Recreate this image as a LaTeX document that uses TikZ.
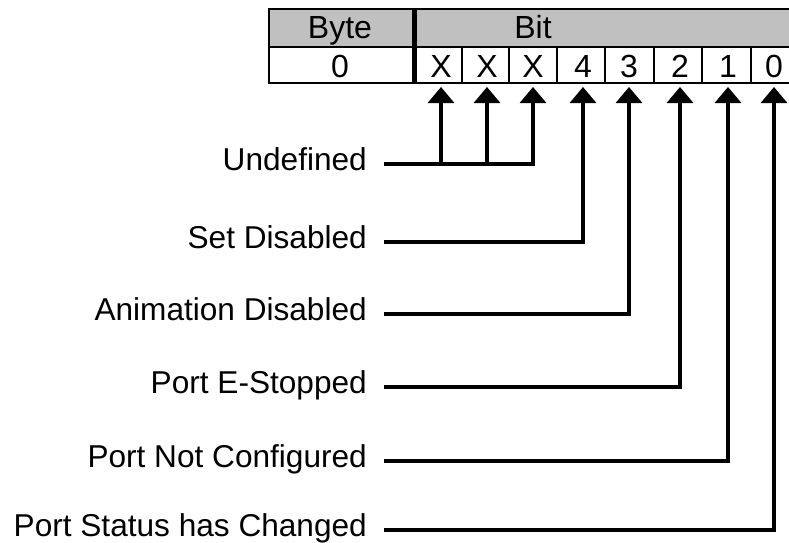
\documentclass[tikz,border=0pt]{standalone}
\usepackage{fontspec}
\setmainfont{Liberation Sans}
\newfontfamily\diagfont{Liberation Sans}
\usetikzlibrary{arrows.meta}
\definecolor{hdrgray}{RGB}{192,192,192}
\tikzset{
  lab/.style={anchor=base east, inner sep=0pt, font=\diagfont\fontsize{31.6}{33}\selectfont},
  celltext/.style={anchor=base, inner sep=0pt, font=\diagfont\fontsize{32}{34}\selectfont},
  conn/.style={line width=3.2pt, line join=miter},
  arrowconn/.style={conn, -{Triangle[width=26pt,length=16pt]}}
}
\begin{document}
\begin{tikzpicture}[x=1pt,y=-1pt]
\useasboundingbox (0,0) rectangle (789,542);
\clip (0,0) rectangle (789,542);
% table
\fill[hdrgray] (269,9) rectangle (800,47);
\fill[white] (269,47) rectangle (800,83);
\draw[line width=2.5pt] (269,9) rectangle (800,83);
\draw[line width=2pt] (269,47) -- (800,47);
\draw[line width=5pt] (414.5,9) -- (414.5,83);
\foreach \x in {462,509,557,605,654,702,751} \draw[line width=1.8pt] (\x,47) -- (\x,83);
% table text
\node[celltext] (byte) at (340,38) {Byte};
\node[celltext] (bit) at (533,38) {Bit};
\node[celltext] (byteval) at (340,77) {0};
\node[celltext] (c7) at (441,77) {X};
\node[celltext] (c6) at (487,77) {X};
\node[celltext] (c5) at (533,77) {X};
\node[celltext] (c4) at (583,77) {4};
\node[celltext] (c3) at (629,77) {3};
\node[celltext] (c2) at (680,77) {2};
\node[celltext] (c1) at (728,77) {1};
\node[celltext] (c0) at (774,77) {0};
% labels
\node[lab] (lund) at (367,170) {Undefined};
\node[lab] (lset) at (367,248) {Set Disabled};
\node[lab] (lani) at (367,320) {Animation Disabled};
\node[lab] (lest) at (367,393) {Port E-Stopped};
\node[lab] (lnot) at (367,467) {Port Not Configured};
\node[lab] (lsta) at (367,536) {Port Status has Changed};
% connectors
\coordinate (uline) at ([xshift=17pt,yshift=6pt]lund.base east);
\draw[arrowconn] (uline) -| ([yshift=-10pt]c5.base);
\draw[arrowconn] (c7.base |- uline) -- ([yshift=-10pt]c7.base);
\draw[arrowconn] (c6.base |- uline) -- ([yshift=-10pt]c6.base);
\draw[arrowconn] ([xshift=17pt,yshift=6pt]lset.base east) -| ([yshift=-10pt]c4.base);
\draw[arrowconn] ([xshift=17pt,yshift=6pt]lani.base east) -| ([yshift=-10pt]c3.base);
\draw[arrowconn] ([xshift=17pt,yshift=6pt]lest.base east) -| ([yshift=-10pt]c2.base);
\draw[arrowconn] ([xshift=17pt,yshift=6pt]lnot.base east) -| ([yshift=-10pt]c1.base);
\draw[arrowconn] ([xshift=17pt,yshift=6pt]lsta.base east) -| ([yshift=-10pt]c0.base);
\end{tikzpicture}
\end{document}
